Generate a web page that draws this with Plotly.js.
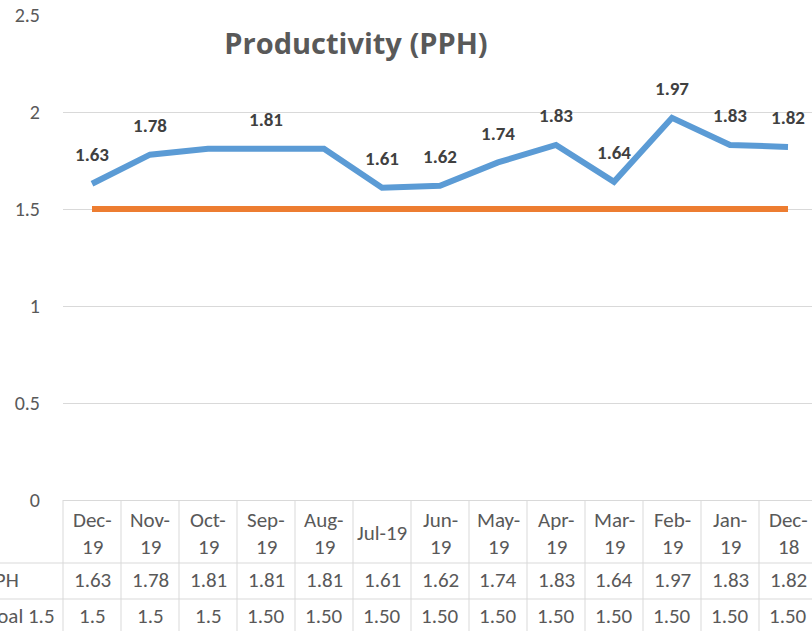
<!DOCTYPE html>
<html>
<head>
<meta charset="utf-8">
<script src="https://cdn.plot.ly/plotly-3.0.1.min.js"></script>
<style>
html,body{margin:0;padding:0;background:#fff;}
#chart{width:812px;height:631px;}
</style>
</head>
<body>
<div id="chart"></div>
<script>
// ---- data ----
const categories = ["Dec-19","Nov-19","Oct-19","Sep-19","Aug-19","Jul-19","Jun-19","May-19","Apr-19","Mar-19","Feb-19","Jan-19","Dec-18"];
const headerLines = [["Dec-","19"],["Nov-","19"],["Oct-","19"],["Sep-","19"],["Aug-","19"],["Jul-19"],["Jun-","19"],["May-","19"],["Apr-","19"],["Mar-","19"],["Feb-","19"],["Jan-","19"],["Dec-","18"]];
const pph = [1.63,1.78,1.81,1.81,1.81,1.61,1.62,1.74,1.83,1.64,1.97,1.83,1.82];
const pphPointLabels = ["1.63","1.78","","1.81","","1.61","1.62","1.74","1.83","1.64","1.97","1.83","1.82"];
const goal = [1.5,1.5,1.5,1.5,1.5,1.5,1.5,1.5,1.5,1.5,1.5,1.5,1.5];
const goalTableLabels = ["1.5","1.5","1.5","1.50","1.50","1.50","1.50","1.50","1.50","1.50","1.50","1.50","1.50"];
const seriesNames = ["PPH","Goal 1.5"];
const yTicks = [0,0.5,1,1.5,2,2.5];
const yTickText = ["0","0.5","1","1.5","2","2.5"];

// ---- layout helpers ----
const FONT = "Carlito, Lato, 'Open Sans', sans-serif";
const GRAY = "#595959";
const LINE = "#d9d9d9";
const idx = categories.map((c,i)=>i);
const xmin = -0.5, xmax = -0.5 + 749/58;
const plotH = 485, plotW = 749;
const px2paperY = p => -(p - 500)/plotH;   // pixel y -> paper y
const px2paperX = p => (p - 63)/plotW;
const dataX2paper = v => (v - xmin)/(xmax - xmin);
const TFONT = {family:FONT, size:21, color:GRAY};

const shapes = [];
const annotations = [];

// table vertical lines
for (let k = 0; k <= categories.length; k++) {
  const xp = dataX2paper(k - 0.5);
  shapes.push({type:"line", xref:"paper", yref:"paper", x0:xp, x1:xp, y0:0, y1:px2paperY(640), line:{color:LINE, width:1}});
}
// table horizontal lines
[563, 599].forEach(p => {
  shapes.push({type:"line", xref:"paper", yref:"paper", x0:-0.2, x1:1.05, y0:px2paperY(p), y1:px2paperY(p), line:{color:LINE, width:1}});
});

// header text
headerLines.forEach((lines,i) => {
  const ys = lines.length === 2 ? [520, 547] : [533];
  lines.forEach((t,j) => {
    annotations.push({xref:"x", yref:"paper", x:i, y:px2paperY(ys[j]), text:t, showarrow:false,
      xanchor:"center", yanchor:"middle", font:TFONT});
  });
});
// table rows
pph.forEach((v,i) => {
  annotations.push({xref:"x", yref:"paper", x:i, y:px2paperY(580), text:v.toFixed(2), showarrow:false,
    xanchor:"center", yanchor:"middle", font:TFONT});
});
goalTableLabels.forEach((t,i) => {
  annotations.push({xref:"x", yref:"paper", x:i, y:px2paperY(616), text:t, showarrow:false,
    xanchor:"center", yanchor:"middle", font:TFONT});
});
// row labels (cut off at left edge, as in the reference)
[[seriesNames[0],580,21],[seriesNames[1],616,57]].forEach(([t,p,right]) => {
  annotations.push({xref:"paper", yref:"paper", x:px2paperX(right), y:px2paperY(p), text:t, showarrow:false,
    xanchor:"right", yanchor:"middle", font:TFONT});
});
// data labels
pph.forEach((v,i) => {
  if (!pphPointLabels[i]) return;
  annotations.push({xref:"x", yref:"y", x:i, y:v, yshift:29, text:pphPointLabels[i], showarrow:false,
    xanchor:"center", yanchor:"middle", font:{family:FONT, size:19, color:"#404040", weight:700}});
});

const traces = [
  {x: idx, y: goal, type:"scatter", mode:"lines", name:seriesNames[1],
   line:{color:"#ed7d31", width:6}, hoverinfo:"skip", cliponaxis:false},
  {x: idx, y: pph, type:"scatter", mode:"lines", name:seriesNames[0],
   line:{color:"#5b9bd5", width:6}, hoverinfo:"skip", cliponaxis:false}
];

const layout = {
  width: 812, height: 631,
  margin: {l:63, r:0, t:15, b:131, pad:0},
  paper_bgcolor:"#fff", plot_bgcolor:"#fff",
  showlegend:false,
  title: {text:"Productivity (PPH)", x: 356/812, xanchor:"center",
          y: 1 - 44/631, yanchor:"middle", yref:"container", xref:"container",
          font:{family:"'Open Sans', Lato, sans-serif", size:29, color:GRAY, weight:"bold"}},
  xaxis: {range:[xmin, xmax], showticklabels:false, showgrid:false, zeroline:false, showline:false, fixedrange:true},
  yaxis: {range:[0,2.5], tickvals:yTicks, ticktext:yTickText, showgrid:true, gridcolor:LINE, gridwidth:1,
          zeroline:true, zerolinecolor:LINE, zerolinewidth:1, showline:false, ticks:"",
          ticklabelstandoff:22,
          tickfont:{family:FONT, size:20, color:GRAY}, fixedrange:true},
  shapes: shapes,
  annotations: annotations
};

Plotly.newPlot("chart", traces, layout, {displayModeBar:false, staticPlot:true});
</script>
</body>
</html>
